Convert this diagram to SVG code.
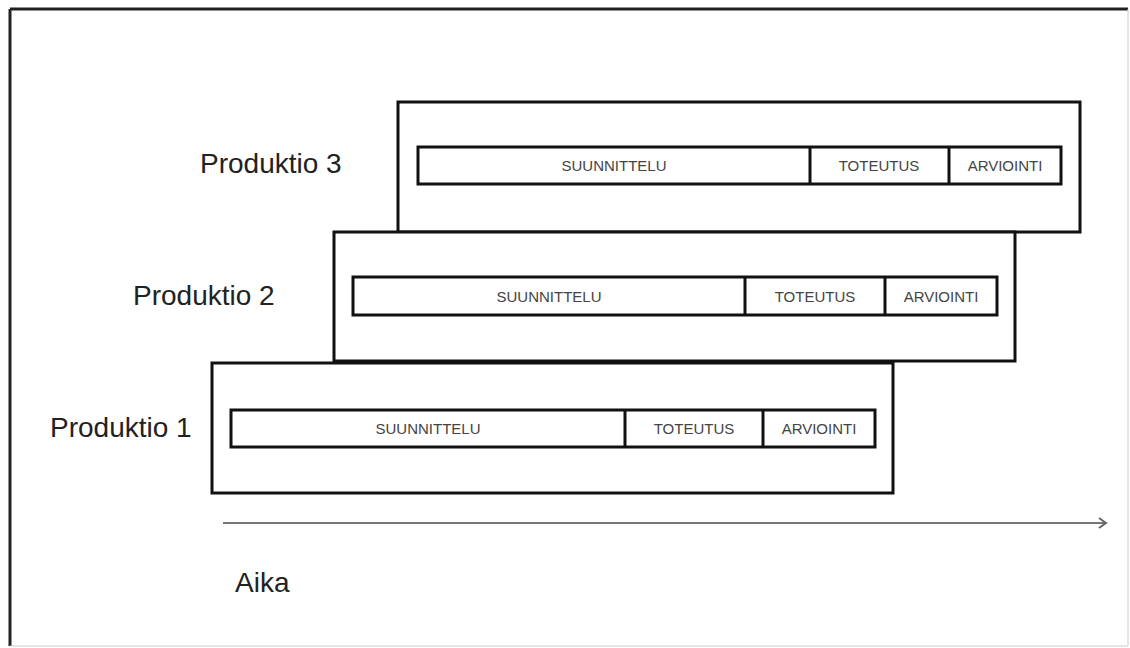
<svg xmlns="http://www.w3.org/2000/svg" width="1130" height="648" viewBox="0 0 1130 648">
  <defs>
    <style>
      .box { fill: #ffffff; stroke: #111111; stroke-width: 3; }
      .bar { fill: #ffffff; stroke: #111111; stroke-width: 3; }
      .div { stroke: #111111; stroke-width: 3; }
      .lbl { font-family: "Liberation Sans", Arial, sans-serif; font-size: 28px; fill: #222222; }
      .seg { font-family: "Liberation Sans", Arial, sans-serif; font-size: 15px; fill: #444444; text-anchor: middle; }
    </style>
    <marker id="arrow" markerWidth="12" markerHeight="12" refX="9" refY="6" orient="auto" markerUnits="userSpaceOnUse">
      <path d="M2,1 L9,6 L2,11" fill="none" stroke="#666666" stroke-width="2"/>
    </marker>
  </defs>
  <rect x="0" y="0" width="1130" height="648" fill="#ffffff"/>
  <g id="frame">
    <line x1="10" y1="9" x2="1128" y2="9" stroke="#222222" stroke-width="3"/>
    <line x1="10" y1="9" x2="10" y2="646" stroke="#222222" stroke-width="3"/>
    <line x1="1128" y1="9" x2="1128" y2="646" stroke="#cccccc" stroke-width="1"/>
    <line x1="10" y1="646" x2="1128" y2="646" stroke="#cccccc" stroke-width="1"/>
  </g>
  <g id="produktio3">
    <rect class="box" x="398" y="102" width="682" height="130"/>
    <rect class="bar" x="418" y="147" width="643" height="37"/>
    <line class="div" x1="810" y1="147" x2="810" y2="184"/>
    <line class="div" x1="949" y1="147" x2="949" y2="184"/>
    <text class="seg" x="614" y="171">SUUNNITTELU</text>
    <text class="seg" x="879" y="171">TOTEUTUS</text>
    <text class="seg" x="1005" y="171">ARVIOINTI</text>
    <text class="lbl" x="200" y="173">Produktio 3</text>
  </g>
  <g id="produktio2">
    <rect class="box" x="334" y="232" width="681" height="129"/>
    <rect class="bar" x="353" y="277" width="644" height="38"/>
    <line class="div" x1="745" y1="277" x2="745" y2="315"/>
    <line class="div" x1="885" y1="277" x2="885" y2="315"/>
    <text class="seg" x="549" y="302">SUUNNITTELU</text>
    <text class="seg" x="815" y="302">TOTEUTUS</text>
    <text class="seg" x="941" y="302">ARVIOINTI</text>
    <text class="lbl" x="133" y="305">Produktio 2</text>
  </g>
  <g id="produktio1">
    <rect class="box" x="212" y="363" width="681" height="130"/>
    <rect class="bar" x="231" y="410" width="644" height="37"/>
    <line class="div" x1="625" y1="410" x2="625" y2="447"/>
    <line class="div" x1="763" y1="410" x2="763" y2="447"/>
    <text class="seg" x="428" y="434">SUUNNITTELU</text>
    <text class="seg" x="694" y="434">TOTEUTUS</text>
    <text class="seg" x="819" y="434">ARVIOINTI</text>
    <text class="lbl" x="50" y="437">Produktio 1</text>
  </g>
  <g id="connectors">
    <line x1="223" y1="523" x2="1106" y2="523" stroke="#777777" stroke-width="2" marker-end="url(#arrow)"/>
  </g>
  <g id="aika">
    <text class="lbl" x="235" y="592">Aika</text>
  </g>
</svg>
